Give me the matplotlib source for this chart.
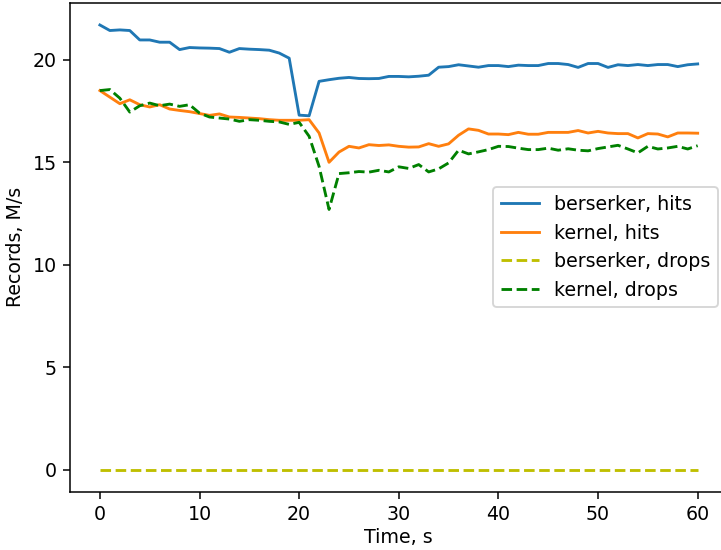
import numpy as np
import matplotlib
matplotlib.use("Agg")
import matplotlib.pyplot as plt

#===========================
# DATA
#===========================
t = np.arange(0, 61)

berserker_hits = [21.70, 21.43, 21.46, 21.43, 20.97, 20.97, 20.86, 20.86, 20.50, 20.60,
                  20.58, 20.57, 20.55, 20.37, 20.55, 20.52, 20.50, 20.47, 20.33, 20.08,
                  17.30, 17.27, 18.95, 19.03, 19.10, 19.14, 19.09, 19.08, 19.09, 19.19,
                  19.19, 19.17, 19.20, 19.25, 19.64, 19.67, 19.76, 19.70, 19.64, 19.72,
                  19.72, 19.67, 19.74, 19.72, 19.72, 19.82, 19.82, 19.77, 19.63, 19.82,
                  19.82, 19.63, 19.76, 19.72, 19.77, 19.72, 19.77, 19.77, 19.67, 19.76,
                  19.80]

kernel_hits = [18.50, 18.18, 17.86, 18.05, 17.81, 17.70, 17.81, 17.60, 17.53, 17.47,
               17.38, 17.29, 17.36, 17.21, 17.19, 17.16, 17.13, 17.08, 17.05, 17.05,
               17.05, 17.08, 16.43, 15.00, 15.50, 15.78, 15.70, 15.86, 15.82, 15.85,
               15.78, 15.74, 15.75, 15.91, 15.78, 15.90, 16.32, 16.63, 16.56, 16.38,
               16.38, 16.35, 16.46, 16.37, 16.37, 16.46, 16.46, 16.46, 16.55, 16.43,
               16.51, 16.43, 16.40, 16.40, 16.19, 16.40, 16.38, 16.24, 16.43, 16.43,
               16.42]

berserker_drops = [0.0] * 61

kernel_drops = [18.50, 18.55, 18.13, 17.45, 17.76, 17.89, 17.76, 17.84, 17.73, 17.81,
                17.40, 17.21, 17.16, 17.11, 17.00, 17.08, 17.05, 17.00, 16.97, 16.85,
                16.95, 16.27, 14.80, 12.70, 14.45, 14.49, 14.55, 14.52, 14.61, 14.53,
                14.78, 14.70, 14.89, 14.53, 14.68, 14.97, 15.59, 15.41, 15.51, 15.62,
                15.78, 15.77, 15.69, 15.62, 15.62, 15.69, 15.59, 15.66, 15.59, 15.56,
                15.67, 15.75, 15.83, 15.65, 15.46, 15.78, 15.65, 15.70, 15.78, 15.65,
                15.81]

#===========================
# PLOT
#===========================
dpi = 137
fig = plt.figure(figsize=(721.0/dpi, 550.0/dpi), dpi=dpi)
ax = fig.add_axes([0.0971, 0.1055, 0.912, 0.8895])

ax.plot(t, berserker_hits, label="berserker, hits")
ax.plot(t, kernel_hits, label="kernel, hits")
ax.plot(t, berserker_drops, "y--", label="berserker, drops")
ax.plot(t, kernel_drops, "g--", label="kernel, drops")

ax.set_xlabel("Time, s", labelpad=2)
ax.set_ylabel("Records, M/s")
ax.legend(loc="center right")

fig.savefig("out.png", dpi=dpi)
